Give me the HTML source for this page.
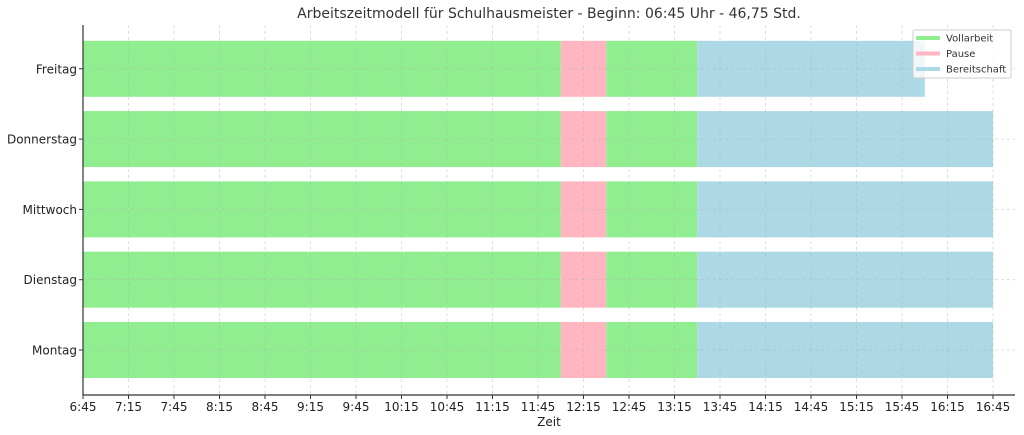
<!DOCTYPE html>
<html><head><meta charset="utf-8"><style>
body{margin:0;background:#fff;}
svg{display:block;font-family:"DejaVu Sans","Liberation Sans",sans-serif;}
</style></head><body>
<svg id="chart" width="1024" height="435" viewBox="0 0 1024 435" xmlns="http://www.w3.org/2000/svg">
<text x="549" y="18" text-anchor="middle" font-size="14" fill="#333">Arbeitszeitmodell für Schulhausmeister - Beginn: 06:45 Uhr - 46,75 Std.</text>
<g id="grid"></g>
<g id="bars"></g>
<g id="gridtop"></g>
<g id="axes"></g>
<text x="549" y="426" text-anchor="middle" font-size="12" fill="#222">Zeit</text>
<g>
<rect x="913" y="30" width="98" height="48" rx="2" fill="#fff" fill-opacity="0.8" stroke="#ccc"/>
<line x1="916" y1="38" x2="940" y2="38" stroke="#90ee90" stroke-width="4"/>
<text x="946" y="41.5" font-size="10" fill="#333">Vollarbeit</text>
<line x1="916" y1="53.5" x2="940" y2="53.5" stroke="#ffb6c1" stroke-width="4"/>
<text x="946" y="57" font-size="10" fill="#333">Pause</text>
<line x1="916" y1="69" x2="940" y2="69" stroke="#add8e6" stroke-width="4"/>
<text x="946" y="72.5" font-size="10" fill="#333">Bereitschaft</text>
</g>
</svg>
<script>
const days = ["Montag","Dienstag","Mittwoch","Donnerstag","Freitag"];
const segmentTypes = ["Vollarbeit","Pause","Vollarbeit","Bereitschaft"];
const segmentStarts = [6.75, 12.0, 12.5, 13.5];
const segmentEnds = [[12.0,12.5,13.5,16.75],[12.0,12.5,13.5,16.75],[12.0,12.5,13.5,16.75],[12.0,12.5,13.5,16.75],[12.0,12.5,13.5,16.0]];
const tickHours = [6.75,7.25,7.75,8.25,8.75,9.25,9.75,10.25,10.75,11.25,11.75,12.25,12.75,13.25,13.75,14.25,14.75,15.25,15.75,16.25,16.75];
const tickLabels = ["6:45","7:15","7:45","8:15","8:45","9:15","9:45","10:15","10:45","11:15","11:45","12:15","12:45","13:15","13:45","14:15","14:45","15:15","15:45","16:15","16:45"];
const colors = {Vollarbeit:"#90ee90",Pause:"#ffb6c1",Bereitschaft:"#add8e6"};
const NS="http://www.w3.org/2000/svg";
const L=83,R=1015,T=25,B=395;
const x=h=>L+(h-6.75)*91;
const y=i=>350-i*70.3;
const barH=56;
function mk(tag,attrs,parent){const e=document.createElementNS(NS,tag);for(const k in attrs)e.setAttribute(k,attrs[k]);parent.appendChild(e);return e;}
const bars=document.getElementById('bars'),gt=document.getElementById('gridtop'),ax=document.getElementById('axes');
days.forEach((d,i)=>{
  segmentTypes.forEach((t,j)=>{
    const s=segmentStarts[j],e=segmentEnds[i][j];
    const r=mk('rect',{x:x(s),y:y(i)-barH/2,width:x(e)-x(s),height:barH,fill:colors[t]},bars);
    
    
  });
  mk('line',{x1:L,x2:R,y1:y(i),y2:y(i),stroke:"#b0b0b0","stroke-opacity":0.5,"stroke-dasharray":"3,3","stroke-width":0.8},gt);
  mk('line',{x1:L-4,x2:L,y1:y(i),y2:y(i),stroke:"#333"},ax);
  const t=mk('text',{x:L-6,y:y(i)+4.5,"text-anchor":"end","font-size":12,fill:"#222"},ax);
  t.textContent=d;
  
  
});
tickHours.forEach((h,k)=>{
  mk('line',{x1:x(h),x2:x(h),y1:T,y2:B,stroke:"#b0b0b0","stroke-opacity":0.5,"stroke-dasharray":"3,3","stroke-width":0.8},gt);
  mk('line',{x1:x(h),x2:x(h),y1:B,y2:B+4,stroke:"#333"},ax);
  const t=mk('text',{x:x(h),y:B+16,"text-anchor":"middle","font-size":12,fill:"#222"},ax);
  t.textContent=tickLabels[k];
  
  
});
mk('line',{x1:L,x2:L,y1:T,y2:B,stroke:"#333","stroke-width":1.2},ax);
mk('line',{x1:L,x2:R,y1:B,y2:B,stroke:"#333","stroke-width":1.2},ax);
</script>
</body></html>
